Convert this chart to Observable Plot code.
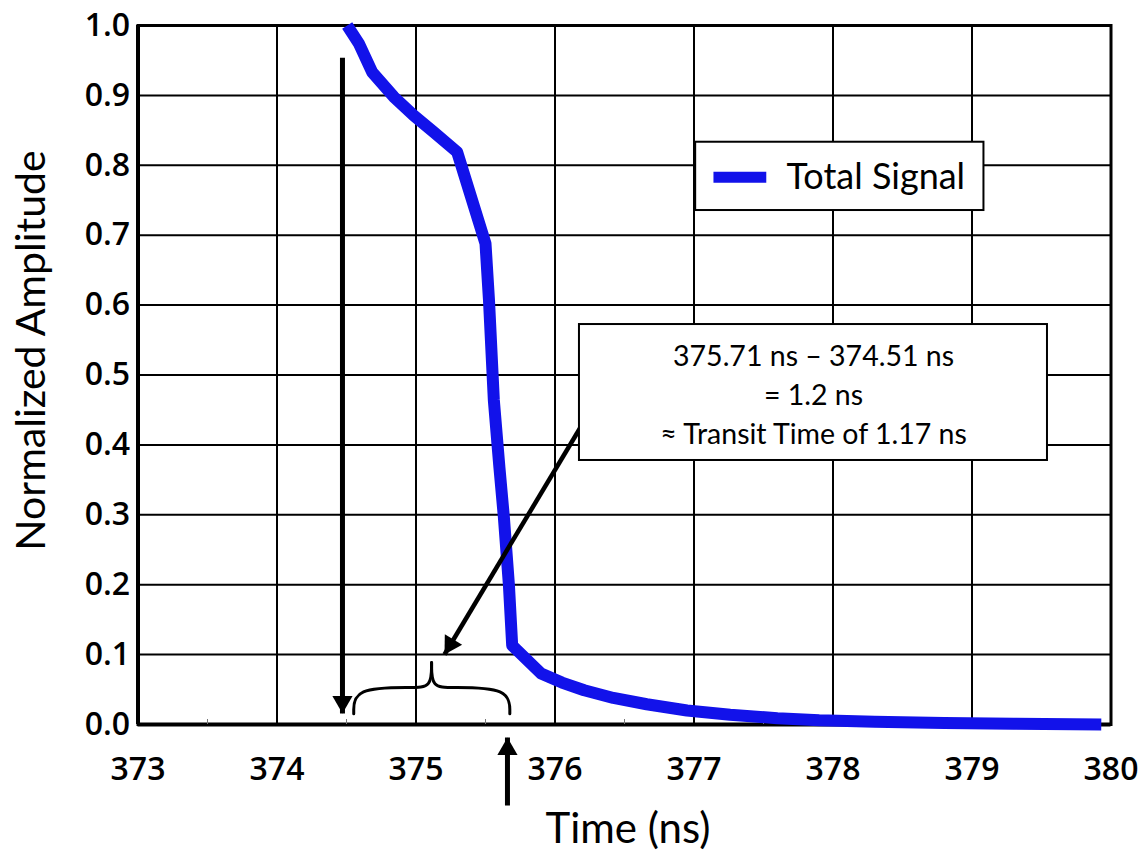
<!DOCTYPE html>
<html><head><meta charset="utf-8">
<script src="https://cdn.jsdelivr.net/npm/d3@7"></script>
<script src="https://cdn.jsdelivr.net/npm/@observablehq/plot@0.6"></script>
<style>html,body{margin:0;padding:0;background:#fff;overflow:hidden}</style>
</head><body><div id="chart"></div>
<script>
// ---- data ----
const time = [374.505, 374.59, 374.685, 374.84, 374.985, 375.13, 375.296, 375.50, 375.525, 375.56, 375.60, 375.632, 375.668, 375.692, 375.90, 376.05, 376.21, 376.42, 376.66, 376.95, 377.26, 377.6, 377.9, 378.3, 378.8, 379.3, 379.93];
const amplitude = [1.000, 0.974, 0.933, 0.898, 0.871, 0.847, 0.819, 0.688, 0.607, 0.464, 0.368, 0.297, 0.201, 0.113, 0.073, 0.060, 0.049, 0.038, 0.029, 0.020, 0.014, 0.009, 0.006, 0.004, 0.002, 0.001, 0.000];
const xTicks = [373, 374, 375, 376, 377, 378, 379, 380];
const xMinorTicks = [373.5, 374.5, 375.5, 376.5, 377.5, 378.5, 379.5];
const yTicks = [0, 0.1, 0.2, 0.3, 0.4, 0.5, 0.6, 0.7, 0.8, 0.9, 1.0];
const seriesName = "Total Signal";
const xTitle = "Time (ns)";
const yTitle = "Normalized Amplitude";
const noteLines = ["375.71 ns \u2013 374.51 ns", "= 1.2 ns", "\u2248 Transit Time of 1.17 ns"];

// ---- annotation geometry (data units) ----
const startMarker = {x: 374.471, y1: 0.954, y2: 0.0157};
const endMarker = {x: 375.658, y1: -0.1159, y2: -0.0186};
const noteArrow = {x1: 376.183, y1: 0.4249, x2: 375.205, y2: 0.1001};
const braceLeft = [[374.552, 0.0153], [374.552, 0.0529], [374.975, 0.0529], [375.112, 0.0529], [375.112, 0.0887]];
const braceRight = [[375.112, 0.0887], [375.112, 0.0529], [375.248, 0.0529], [375.675, 0.0529], [375.675, 0.0153]];
const noteBox = {x1: 376.176, x2: 379.543, y1: 0.3777, y2: 0.5722, cx: 377.86, cy: 0.475};
const legendBox = {x1: 377.012, x2: 379.086, y1: 0.7353, y2: 0.833, lx1: 377.14, lx2: 377.52, ly: 0.783, tx: 377.665};

// ---- layout ----
const W = 1147, H = 850, mL = 137.5, mR = 36.5, mT = 25, mB = 126;
const sx = d3.scaleLinear([373, 380], [mL, W - mR]);
const sy = d3.scaleLinear([0, 1], [H - mB, mT]);
const BLUE = "#1212ea";
const LABEL_FONT = "Lato, 'Open Sans', sans-serif";
const TICK_FONT = "'Open Sans', 'Liberation Sans', sans-serif";

const signal = time.map((t, i) => ({t, a: amplitude[i]}));

// filled triangular arrow head whose tip sits at (tx,ty), pointing away from (fx,fy)
function arrowHead(fx, fy, tx, ty, r) {
  const px = sx(tx) - sx(fx), py = sy(ty) - sy(fy);
  const len = Math.hypot(px, py), ux = px / len, uy = py / len;
  const h = Math.sqrt(Math.PI * r * r / (3 * Math.sqrt(3)));
  const cx = sx.invert(sx(tx) - 2 * h * ux), cy = sy.invert(sy(ty) - 2 * h * uy);
  const angle = Math.atan2(ux, -uy) * 180 / Math.PI;
  return Plot.dot([{x: cx, y: cy}], {x: "x", y: "y", symbol: "triangle", r, rotate: angle, fill: "black", stroke: "none"});
}

const toPts = arr => arr.map(([x, y]) => ({x, y}));

const chart = Plot.plot({
  width: W, height: H,
  marginLeft: mL, marginRight: mR, marginTop: mT, marginBottom: mB,
  x: {domain: [373, 380], label: null},
  y: {domain: [0, 1], label: null},
  style: {fontFamily: TICK_FONT, background: "white", color: "black", overflow: "visible"},
  marks: [
    Plot.gridX(xTicks.slice(1, -1), {stroke: "black", strokeOpacity: 1, strokeWidth: 2}),
    Plot.gridY(yTicks.slice(1, -1), {stroke: "black", strokeOpacity: 1, strokeWidth: 2}),
    Plot.frame({stroke: "black", strokeWidth: 3}),
    Plot.ruleX([373], {stroke: "black", strokeWidth: 4}),
    Plot.ruleY([0], {stroke: "black", strokeWidth: 4}),
    Plot.axisX({ticks: xMinorTicks, tickSize: 5, dy: -5, tickFormat: () => "", stroke: "#777", strokeWidth: 1}),
    Plot.axisX({ticks: xTicks, tickSize: 0, tickPadding: 33, tickFormat: d3.format("d"), fontSize: 32, fontWeight: 600, fontFamily: TICK_FONT, fill: "black"}),
    Plot.axisY({ticks: yTicks, tickSize: 0, tickPadding: 8, tickFormat: d3.format(".1f"), fontSize: 32, fontWeight: 600, fontFamily: TICK_FONT, fill: "black"}),
    // signal
    Plot.line(signal, {x: "t", y: "a", stroke: BLUE, strokeWidth: 12, strokeLinejoin: "round", strokeLinecap: "butt"}),
    // start marker (down arrow)
    Plot.link([startMarker], {x1: "x", x2: "x", y1: "y1", y2: "y2", stroke: "black", strokeWidth: 5}),
    arrowHead(startMarker.x, startMarker.y1, startMarker.x, startMarker.y2, 7.5),
    // end marker (up arrow below axis)
    Plot.link([endMarker], {x1: "x", x2: "x", y1: "y1", y2: "y2", stroke: "black", strokeWidth: 5}),
    arrowHead(endMarker.x, endMarker.y1, endMarker.x, endMarker.y2, 7.5),
    // brace
    Plot.line(toPts(braceLeft), {x: "x", y: "y", curve: "basis", stroke: "black", strokeWidth: 3}),
    Plot.line(toPts(braceRight), {x: "x", y: "y", curve: "basis", stroke: "black", strokeWidth: 3}),
    // note arrow
    Plot.link([noteArrow], {x1: "x1", y1: "y1", x2: "x2", y2: "y2", stroke: "black", strokeWidth: 4.5}),
    arrowHead(noteArrow.x1, noteArrow.y1, noteArrow.x2, noteArrow.y2, 7.5),
    // note box
    Plot.rect([noteBox], {x1: "x1", x2: "x2", y1: "y1", y2: "y2", fill: "white", stroke: "black", strokeWidth: 2}),
    Plot.text([noteLines.join("\n")], {x: () => noteBox.cx, y: () => noteBox.cy, text: d => d, textAnchor: "middle", lineAnchor: "middle", lineHeight: 1.36, fontSize: 28.5, fontFamily: LABEL_FONT, fill: "black"}),
    // legend
    Plot.rect([legendBox], {x1: "x1", x2: "x2", y1: "y1", y2: "y2", fill: "white", stroke: "black", strokeWidth: 2}),
    Plot.link([legendBox], {x1: "lx1", x2: "lx2", y1: "ly", y2: "ly", stroke: BLUE, strokeWidth: 11}),
    Plot.text([seriesName], {x: () => legendBox.tx, y: () => legendBox.ly, text: d => d, textAnchor: "start", lineAnchor: "middle", fontSize: 36, fontFamily: LABEL_FONT, fill: "black"}),
    // axis titles
    Plot.text([xTitle], {frameAnchor: "bottom", text: d => d, textAnchor: "middle", lineAnchor: "middle", dx: 3.5, dy: 105, fontSize: 42, fontFamily: LABEL_FONT, fill: "black"}),
    Plot.text([yTitle], {frameAnchor: "left", text: d => d, rotate: -90, textAnchor: "middle", lineAnchor: "middle", dx: -106.5, dy: -24.5, fontSize: 41, fontFamily: LABEL_FONT, fill: "black"})
  ]
});
document.getElementById("chart").appendChild(chart);
</script>
</body></html>
